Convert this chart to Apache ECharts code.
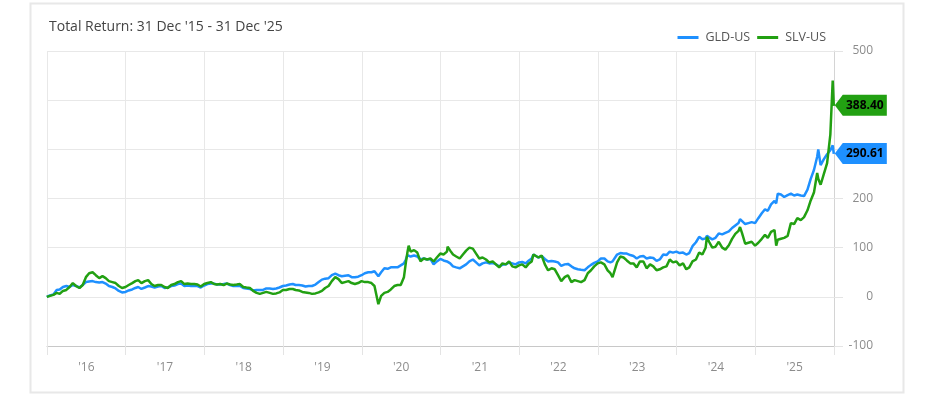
<!DOCTYPE html>
<html>
<head>
<meta charset="utf-8">
<script src="https://cdn.jsdelivr.net/npm/echarts@6/dist/echarts.min.js"></script>
<style>
  html, body { margin: 0; padding: 0; background: #fff; }
  #main { width: 934px; height: 398px; }
</style>
</head>
<body>
<div id="main"></div>
<script>
// x tick labels (centred in each year)
var yearLabels = ["'16", "'17", "'18", "'19", "'20", "'21", "'22", "'23", "'24", "'25"];

// sample dates
var dates = [
  '2015-12-31',
  '2016-01-15','2016-01-31','2016-02-15','2016-02-29','2016-03-15','2016-03-31','2016-04-15','2016-04-30',
  '2016-05-15','2016-05-31','2016-06-15','2016-06-30','2016-07-15','2016-07-31','2016-08-15','2016-08-31',
  '2016-09-15','2016-09-30','2016-10-15','2016-10-31','2016-11-15','2016-11-30','2016-12-15','2016-12-31',
  '2017-01-15','2017-01-31','2017-02-15','2017-02-28','2017-03-15','2017-03-31','2017-04-15','2017-04-30',
  '2017-05-15','2017-05-31','2017-06-15','2017-06-30','2017-07-15','2017-07-31','2017-08-15','2017-08-31',
  '2017-09-15','2017-09-30','2017-10-15','2017-10-31','2017-11-15','2017-11-30','2017-12-15','2017-12-31',
  '2018-01-15','2018-01-31','2018-02-15','2018-02-28','2018-03-15','2018-03-31','2018-04-15','2018-04-30',
  '2018-05-15','2018-05-31','2018-06-15','2018-06-30','2018-07-15','2018-07-31','2018-08-15','2018-08-31',
  '2018-09-15','2018-09-30','2018-10-15','2018-10-31','2018-11-15','2018-11-30','2018-12-15','2018-12-31',
  '2019-01-15','2019-01-31','2019-02-15','2019-02-28','2019-03-15','2019-03-31','2019-04-15','2019-04-30',
  '2019-05-15','2019-05-31','2019-06-15','2019-06-30','2019-07-15','2019-07-31','2019-08-15','2019-08-31',
  '2019-09-15','2019-09-30','2019-10-15','2019-10-31','2019-11-15','2019-11-30','2019-12-15','2019-12-31',
  '2020-01-15','2020-01-31','2020-02-15','2020-02-29','2020-03-09','2020-03-18','2020-03-31','2020-04-15',
  '2020-04-30','2020-05-15','2020-05-31','2020-06-15','2020-06-30','2020-07-15','2020-07-24','2020-07-31',
  '2020-08-06','2020-08-15','2020-08-31','2020-09-15','2020-09-30','2020-10-15','2020-10-31','2020-11-15',
  '2020-11-30','2020-12-15','2020-12-31',
  '2021-01-15','2021-01-31','2021-02-03','2021-02-15','2021-02-28','2021-03-15','2021-03-31','2021-04-15',
  '2021-04-30','2021-05-15','2021-05-31','2021-06-15','2021-06-30','2021-07-15','2021-07-31','2021-08-15',
  '2021-08-31','2021-09-15','2021-09-30','2021-10-15','2021-10-31','2021-11-15','2021-11-30','2021-12-15',
  '2021-12-31',
  '2022-01-15','2022-01-31','2022-02-15','2022-02-28','2022-03-08','2022-03-15','2022-03-31','2022-04-15',
  '2022-04-30','2022-05-15','2022-05-31','2022-06-15','2022-06-30','2022-07-15','2022-07-31','2022-08-15',
  '2022-08-31','2022-09-15','2022-09-30','2022-10-15','2022-10-31','2022-11-15','2022-11-30','2022-12-15',
  '2022-12-31',
  '2023-01-15','2023-01-31','2023-02-15','2023-02-28','2023-03-10','2023-03-31','2023-04-15','2023-04-30',
  '2023-05-15','2023-05-31','2023-06-15','2023-06-30','2023-07-15','2023-07-31','2023-08-15','2023-08-31',
  '2023-09-15','2023-09-30','2023-10-06','2023-10-15','2023-10-31','2023-11-15','2023-11-30','2023-12-15',
  '2023-12-31',
  '2024-01-15','2024-01-31','2024-02-15','2024-02-29','2024-03-15','2024-03-31','2024-04-15','2024-04-30',
  '2024-05-15','2024-05-21','2024-05-31','2024-06-15','2024-06-30','2024-07-15','2024-07-31','2024-08-15',
  '2024-08-31','2024-09-15','2024-09-30','2024-10-15','2024-10-22','2024-10-31','2024-11-15','2024-11-30',
  '2024-12-15','2024-12-31',
  '2025-01-15','2025-01-31','2025-02-15','2025-02-28','2025-03-15','2025-03-31','2025-04-08','2025-04-15',
  '2025-04-30','2025-05-15','2025-05-31','2025-06-15','2025-06-30','2025-07-15','2025-07-31','2025-08-15',
  '2025-08-31','2025-09-15','2025-09-30','2025-10-15','2025-10-20','2025-10-31','2025-11-15','2025-11-30',
  '2025-12-15','2025-12-26','2025-12-31'
];

// GLD-US total return (%)
var gld = [
  0,
  3,5,14,15,20,22,20,24, 22,19,24,30,31,32,30,29, 30,27,22,20,17,12,9,10,
  13,15,18,20,16,19,22,21, 19,21,22,18,19,22,23,26, 27,22,23,22,22,22,19,23,
  26,27,27,25,25,26,27,24, 22,22,22,18,17,16,13,14, 14,14,17,17,16,17,19,22,
  23,25,26,24,24,23,21,22, 22,25,30,35,37,38,44,47, 44,42,43,44,40,40,41,44,
  48,50,50,52,56,42,50,58, 57,60,60,60,64,68,76,85, 89,82,84,82,76,78,76,77,
  66,72,77,
  74,72,72,68,62,60,58,62, 66,72,76,70,64,68,70,68, 69,66,62,65,66,70,68,66,
  70,
  71,68,74,78,86,82,80,83, 77,72,73,72,70,63,66,67, 62,58,56,55,54,60,65,69,
  72,
  78,78,72,70,72,86,89,88, 88,85,83,78,82,83,78,80, 79,73,72,76,86,85,92,90,
  92,
  89,90,86,89,103,111,122,117, 119,124,121,117,120,129,127,130, 133,140,145,150,158,160,148,150,
  152,150,
  160,170,178,175,188,195,190,210, 208,203,207,210,206,208,206,205, 218,240,258,285,300,268,280,290,
  298,308,290.61
];

// SLV-US total return (%)
var slv = [
  0,
  2,4,8,6,12,14,20,28, 22,18,24,40,48,50,44,38, 42,38,32,30,28,22,18,20,
  24,28,32,34,28,32,34,26, 22,24,24,20,18,24,26,30, 32,26,27,26,26,25,21,26,
  28,30,26,25,26,24,27,25, 24,25,26,20,19,18,12,8, 6,8,10,8,6,7,9,14,
  14,16,16,14,13,10,9,8, 6,7,9,12,18,22,32,40, 36,28,30,32,28,26,28,32,
  30,30,28,22,26,-15,2,8, 10,15,22,24,24,40,70,90, 104,92,95,90,72,78,76,78,
  72,80,88,
  86,92,102,94,86,82,78,86, 94,100,98,88,78,80,76,70, 72,66,60,68,66,72,62,60,
  64,
  66,60,68,72,86,82,80,84, 66,54,58,56,44,32,40,44, 30,34,32,30,34,48,54,62,
  68,
  70,66,54,48,40,70,82,80, 74,68,68,60,72,72,58,66, 62,54,52,56,60,62,76,70,
  72,
  64,68,56,60,72,76,90,86, 100,122,112,100,102,112,100,96, 105,118,128,134,142,130,108,110,
  112,104,
  110,118,126,120,132,136,104,116, 118,120,124,150,148,160,156,162, 176,196,212,252,240,228,250,272,
  330,440,388.40
];

var names = ['GLD-US', 'SLV-US'];
var colors = ['#1e90ff', '#22a012'];

function yearFrac(s) {
  var p = s.split('-').map(Number);
  var t = Date.UTC(p[0], p[1] - 1, p[2]);
  var a = Date.UTC(p[0], 0, 1), b = Date.UTC(p[0] + 1, 0, 1);
  return p[0] + (t - a) / (b - a);
}

function makeSeries(idx, vals) {
  var pts = dates.map(function (d, i) { return [yearFrac(d), vals[i]]; });
  var last = pts[pts.length - 1];
  return {
    name: names[idx],
    type: 'line',
    xAxisIndex: 0,
    showSymbol: false,
    data: pts,
    lineStyle: { width: 2.5, color: colors[idx] },
    itemStyle: { color: colors[idx] },
    markPoint: {
      symbol: 'path://M0,10.5 L8,0 L52,0 L52,21 L8,21 Z',
      symbolSize: [52, 21],
      symbolOffset: [27, -0.5],
      itemStyle: { color: colors[idx] },
      label: {
        show: true,
        position: 'inside',
        offset: [4, 0],
        color: '#000',
        fontSize: 12,
        fontWeight: 'bold',
        fontFamily: 'Open Sans',
        formatter: function (p) { return Number(p.value).toFixed(2); }
      },
      data: [{ coord: last, value: last[1] }]
    }
  };
}

var chart = echarts.init(document.getElementById('main'));
var option = {
  animation: false,
  backgroundColor: '#fff',
  textStyle: { fontFamily: 'Open Sans' },
  graphic: [{
    type: 'rect',
    z: -1,
    shape: { x: 30.5, y: 3.5, width: 873, height: 389 },
    style: { fill: 'none', stroke: '#e8e8e8', lineWidth: 2 }
  }],
  title: {
    text: "Total Return: 31 Dec '15 - 31 Dec '25",
    left: 44,
    top: 15,
    textStyle: { fontSize: 14, fontWeight: 'normal', color: '#444', fontFamily: 'Open Sans' }
  },
  legend: {
    right: 103,
    top: 26,
    icon: 'rect',
    itemWidth: 21,
    itemHeight: 3,
    itemGap: 7,
    textStyle: { fontSize: 12.5, color: '#555', fontFamily: 'Open Sans', padding: [0, 0, 0, 2] },
    data: names
  },
  grid: { left: 47, right: 100, top: 51, bottom: 52 },
  xAxis: [{
    type: 'value',
    min: 2016,
    max: 2026,
    interval: 1,
    axisLine: { show: true, onZero: false, lineStyle: { color: '#c8c8c8' } },
    axisTick: { show: true, length: 9, lineStyle: { color: '#e4e4e4' } },
    axisLabel: { show: false },
    splitLine: { show: true, lineStyle: { color: '#e8e8e8' } }
  }, {
    type: 'category',
    position: 'bottom',
    offset: 0,
    data: yearLabels,
    boundaryGap: true,
    axisLine: { show: false },
    axisTick: { show: false },
    splitLine: { show: false },
    axisLabel: { margin: 16, fontSize: 12, color: '#8c8c8c', fontFamily: 'Open Sans' }
  }],
  yAxis: {
    type: 'value',
    position: 'right',
    min: -100,
    max: 500,
    interval: 100,
    axisLine: { show: true, lineStyle: { color: '#d4d4d4' } },
    axisTick: { show: true, length: 9, lineStyle: { color: '#e4e4e4' } },
    axisLabel: { margin: 39, align: 'right', fontSize: 12, color: '#8c8c8c', fontFamily: 'Open Sans' },
    splitLine: { show: true, lineStyle: { color: '#e8e8e8' } }
  },
  series: [makeSeries(0, gld), makeSeries(1, slv)]
};
chart.setOption(option);
</script>
</body>
</html>
